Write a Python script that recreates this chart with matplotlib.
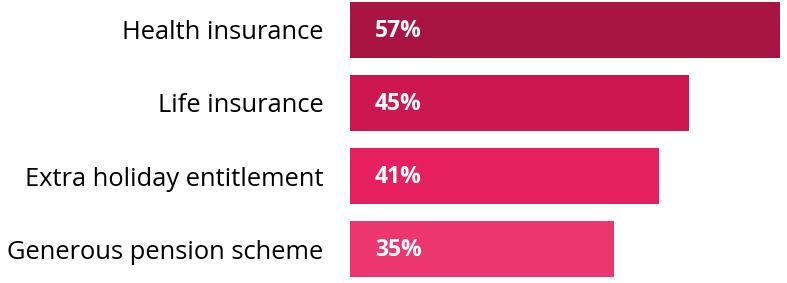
import matplotlib.pyplot as plt

# Data
categories = ["Health insurance", "Life insurance", "Extra holiday entitlement", "Generous pension scheme"]
values = [57, 45, 41, 35]
colors = ["#A81443", "#CD1751", "#E42060", "#EC3670"]

fig = plt.figure(figsize=(7.87, 2.83), dpi=100)
ax = fig.add_axes([350 / 787, 0, 430 / 787, 1])

pos = list(range(len(categories)))
ax.barh(pos, values, height=0.765, color=colors)

for p, v in zip(pos, values):
    ax.text(3.3, p + 0.01, f"{v}%", color="white", fontsize=16.5, fontweight="bold",
            family="Open Sans", va="center", ha="left")

ax.set_xlim(0, 57)
ax.set_ylim(3.465, -0.41)
ax.set_yticks(pos)
ax.set_yticklabels(categories, fontsize=18.4, family="Open Sans", color="black")
ax.tick_params(axis="y", length=0, pad=19)
ax.set_xticks([])
for s in ax.spines.values():
    s.set_visible(False)

plt.savefig("out.png", dpi=100)
